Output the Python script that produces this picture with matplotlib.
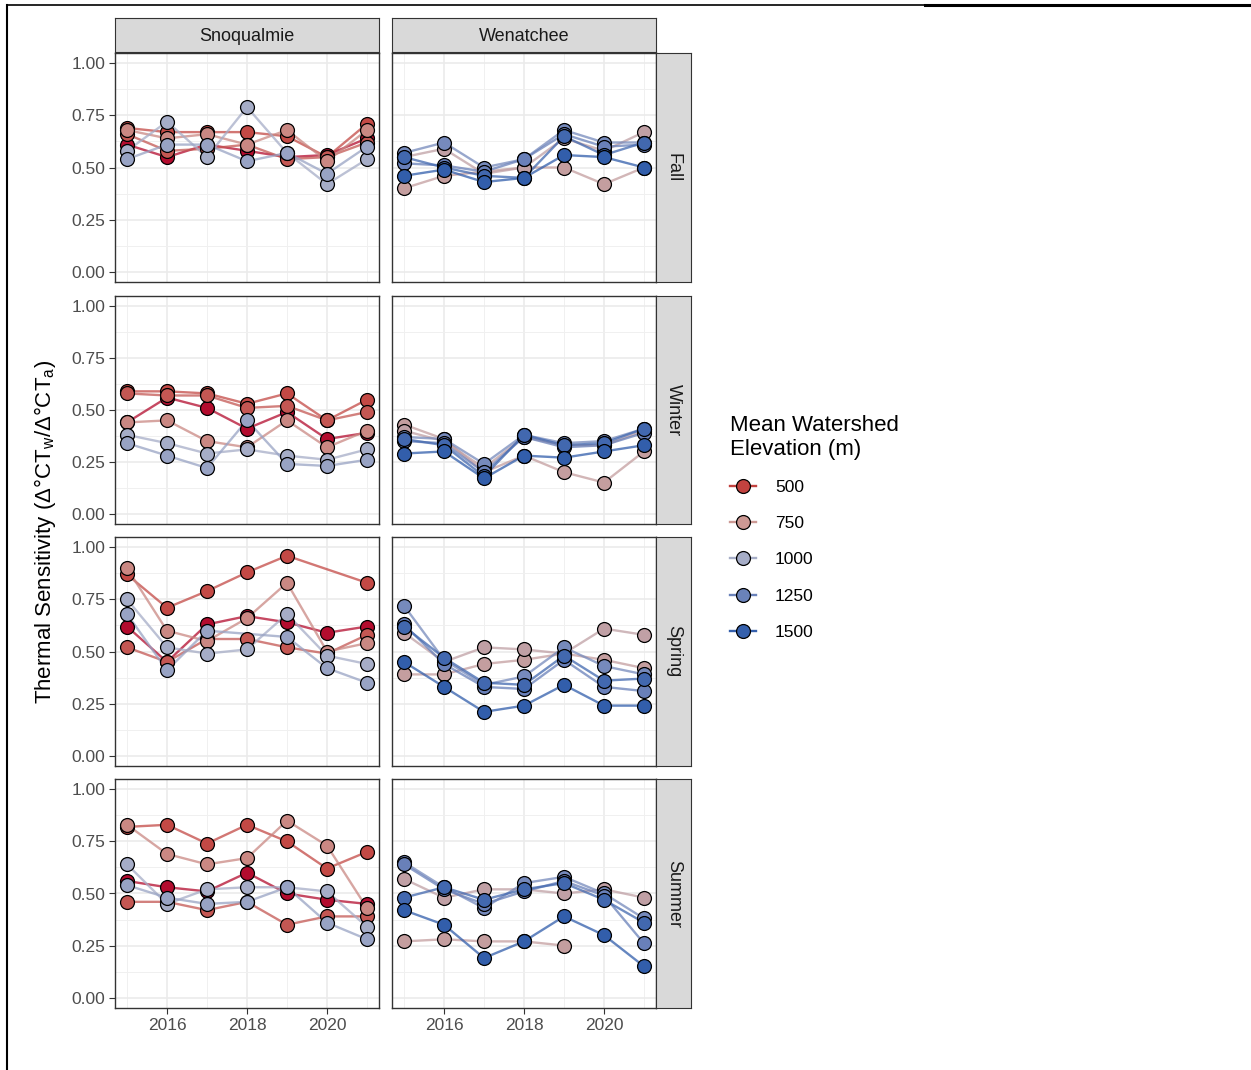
import matplotlib
matplotlib.use("Agg")
import matplotlib.pyplot as plt
import numpy as np
from matplotlib.colors import LinearSegmentedColormap, Normalize
from matplotlib.lines import Line2D

plt.rcParams["font.family"] = ["Liberation Sans", "DejaVu Sans"]
plt.rcParams["mathtext.fontset"] = "custom"
plt.rcParams["mathtext.rm"] = "Liberation Sans"
plt.rcParams["mathtext.it"] = "Liberation Sans:italic"

years = [2015, 2016, 2017, 2018, 2019, 2020, 2021]
basins = ["Snoqualmie", "Wenatchee"]
seasons = ["Fall", "Winter", "Spring", "Summer"]

# mean watershed elevation (m) of each site
sno_elev = [420, 520, 560, 700, 1000, 1060]
wen_elev = [800, 830, 1200, 1260, 1440, 1510]

nan = np.nan

# thermal sensitivity per site, one row per site (same order as the elevations)
sno_fall = [
    [0.61, 0.55, 0.61, 0.58, 0.55, 0.56, 0.64],
    [0.69, 0.67, 0.67, 0.67, 0.65, 0.55, 0.71],
    [0.66, 0.58, 0.59, 0.61, 0.54, 0.55, 0.62],
    [0.68, 0.64, 0.66, 0.61, 0.68, 0.53, 0.68],
    [0.58, 0.72, 0.55, 0.79, 0.57, 0.42, 0.54],
    [0.54, 0.61, 0.61, 0.53, 0.57, 0.47, 0.60],
]
sno_winter = [
    [0.44, 0.56, 0.51, 0.41, 0.49, 0.36, 0.39],
    [0.59, 0.59, 0.58, 0.53, 0.58, 0.45, 0.55],
    [0.58, 0.57, 0.57, 0.51, 0.52, 0.45, 0.49],
    [0.44, 0.45, 0.35, 0.32, 0.45, 0.32, 0.40],
    [0.38, 0.34, 0.29, 0.31, 0.28, 0.26, 0.31],
    [0.34, 0.28, 0.22, 0.45, 0.24, 0.23, 0.26],
]
sno_spring = [
    [0.62, 0.45, 0.63, 0.67, 0.64, 0.59, 0.62],
    [0.87, 0.71, 0.79, 0.88, 0.96, nan, 0.83],
    [0.52, 0.45, 0.56, 0.56, 0.52, 0.49, 0.58],
    [0.90, 0.60, 0.55, 0.66, 0.83, 0.50, 0.54],
    [0.75, 0.52, 0.49, 0.51, 0.68, 0.48, 0.44],
    [0.68, 0.41, 0.60, nan, 0.57, 0.42, 0.35],
]
sno_summer = [
    [0.56, 0.53, 0.51, 0.60, 0.50, 0.47, 0.45],
    [0.82, 0.83, 0.74, 0.83, 0.75, 0.62, 0.70],
    [0.46, 0.46, 0.42, 0.46, 0.35, 0.39, 0.39],
    [0.83, 0.69, 0.64, 0.67, 0.85, 0.73, 0.43],
    [0.64, 0.45, 0.52, 0.53, 0.53, 0.51, 0.34],
    [0.54, 0.48, 0.45, 0.46, 0.53, 0.36, 0.28],
]
wen_fall = [
    [0.40, 0.46, 0.48, 0.50, 0.50, 0.42, 0.50],
    [0.55, 0.59, 0.47, 0.50, 0.64, 0.58, 0.67],
    [0.57, 0.62, 0.50, 0.54, 0.68, 0.62, 0.62],
    [0.52, 0.51, 0.48, 0.54, 0.66, 0.60, 0.61],
    [0.55, 0.50, 0.46, 0.45, 0.65, 0.56, 0.62],
    [0.46, 0.49, 0.43, 0.45, 0.56, 0.55, 0.50],
]
wen_winter = [
    [0.43, 0.36, 0.20, 0.28, 0.20, 0.15, 0.30],
    [0.40, 0.35, 0.22, 0.37, 0.33, 0.33, 0.40],
    [0.37, 0.36, 0.24, 0.38, 0.34, 0.35, 0.41],
    [0.35, 0.34, 0.20, 0.37, 0.32, 0.33, 0.39],
    [0.36, 0.33, 0.18, 0.38, 0.33, 0.34, 0.41],
    [0.29, 0.30, 0.17, 0.28, 0.27, 0.30, 0.33],
]
wen_spring = [
    [0.39, 0.39, 0.44, 0.46, 0.49, 0.46, 0.42],
    [0.59, 0.45, 0.52, 0.51, 0.49, 0.61, 0.58],
    [0.72, 0.46, 0.34, 0.38, 0.52, 0.43, 0.39],
    [0.63, 0.44, 0.33, 0.32, 0.46, 0.33, 0.31],
    [0.62, 0.47, 0.35, 0.34, 0.48, 0.36, 0.37],
    [0.45, 0.33, 0.21, 0.24, 0.34, 0.24, 0.24],
]
wen_summer = [
    [0.27, 0.28, 0.27, 0.27, 0.25, nan, nan],
    [0.57, 0.48, 0.52, 0.52, 0.50, 0.52, 0.48],
    [0.65, 0.53, 0.43, 0.55, 0.58, 0.50, 0.38],
    [0.64, 0.52, 0.45, 0.51, 0.56, 0.49, 0.26],
    [0.48, 0.53, 0.47, 0.52, 0.55, 0.47, 0.36],
    [0.42, 0.35, 0.19, 0.27, 0.39, 0.30, 0.15],
]

legend_elev = [500, 750, 1000, 1250, 1500]

panels = {
    ("Snoqualmie", "Fall"): sno_fall,
    ("Snoqualmie", "Winter"): sno_winter,
    ("Snoqualmie", "Spring"): sno_spring,
    ("Snoqualmie", "Summer"): sno_summer,
    ("Wenatchee", "Fall"): wen_fall,
    ("Wenatchee", "Winter"): wen_winter,
    ("Wenatchee", "Spring"): wen_spring,
    ("Wenatchee", "Summer"): wen_summer,
}
elevations = {"Snoqualmie": sno_elev, "Wenatchee": wen_elev}

# red -> grey -> blue elevation scale
stops = [400, 500, 750, 1000, 1250, 1500, 1550]
stop_cols = ["#B0002A", "#C2433F", "#CC9A95", "#A6ADC7", "#6B82BA", "#3560AC", "#2A58A8"]
lo, hi = stops[0], stops[-1]
cmap = LinearSegmentedColormap.from_list(
    "elev", [((s - lo) / (hi - lo), c) for s, c in zip(stops, stop_cols)])
norm = Normalize(lo, hi)

W, H = 1251, 1070
fig = plt.figure(figsize=(W / 100, H / 100), dpi=100)


def rect(x0, y0, x1, y1):
    return [x0 / W, 1 - y1 / H, (x1 - x0) / W, (y1 - y0) / H]


col_x = [(115, 379), (392, 656)]
row_y = [(53, 282), (296, 524), (537, 766), (779, 1008)]
border = "#333333"
tick_col = "#4D4D4D"

for r, season in enumerate(seasons):
    for c, basin in enumerate(basins):
        x0, x1 = col_x[c]
        y0, y1 = row_y[r]
        ax = fig.add_axes(rect(x0, y0, x1, y1))
        ax.set_xlim(2014.7, 2021.3)
        ax.set_ylim(-0.05, 1.05)
        ax.set_xticks([2016, 2018, 2020])
        ax.set_xticks([2015, 2017, 2019, 2021], minor=True)
        ax.set_yticks([0, 0.25, 0.5, 0.75, 1.0])
        ax.set_yticks([0.125, 0.375, 0.625, 0.875], minor=True)
        ax.grid(which="major", color="#EBEBEB", lw=1.2, zorder=0)
        ax.grid(which="minor", color="#F0F0F0", lw=0.7, zorder=0)
        ax.set_axisbelow(True)
        for sp in ax.spines.values():
            sp.set_color(border)
            sp.set_linewidth(1.0)
        ax.tick_params(which="minor", length=0)
        ax.tick_params(which="major", length=4, width=0.8, color=border,
                       labelsize=12.5, labelcolor=tick_col, pad=3)
        if c == 0:
            ax.set_yticklabels(["0.00", "0.25", "0.50", "0.75", "1.00"])
        else:
            ax.tick_params(axis="y", which="major", length=0, labelleft=False)
        if r != len(seasons) - 1:
            ax.tick_params(axis="x", which="major", length=0, labelbottom=False)

        series = panels[(basin, season)]
        elev = elevations[basin]
        yrs = np.array(years)
        for vals, e in zip(series, elev):
            v = np.array(vals, dtype=float)
            ok = ~np.isnan(v)
            ax.plot(yrs[ok], v[ok], color=cmap(norm(e)), lw=1.7, alpha=0.75, zorder=2)
        for vals, e in zip(series, elev):
            v = np.array(vals, dtype=float)
            ok = ~np.isnan(v)
            ax.plot(yrs[ok], v[ok], ls="none", marker="o", ms=10,
                    mfc=cmap(norm(e)), mec="black", mew=0.9, zorder=3)

        # facet strips
        if r == 0:
            sx = fig.add_axes(rect(x0, 18, x1, 52))
            sx.set_facecolor("#D9D9D9")
            sx.set_xticks([])
            sx.set_yticks([])
            for sp in sx.spines.values():
                sp.set_color(border)
            sx.text(0.5, 0.45, basin, ha="center", va="center", fontsize=13,
                    color="#1A1A1A", transform=sx.transAxes)
        if c == len(basins) - 1:
            sy = fig.add_axes(rect(656, y0, 691, y1))
            sy.set_facecolor("#D9D9D9")
            sy.set_xticks([])
            sy.set_yticks([])
            for sp in sy.spines.values():
                sp.set_color(border)
            sy.text(0.5, 0.5, season, ha="center", va="center", fontsize=13,
                    rotation=-90, color="#1A1A1A", transform=sy.transAxes)

fig.text(45 / W, 1 - 532 / H,
         r"Thermal Sensitivity (Δ°CT$_\mathrm{w}$/Δ°CT$_\mathrm{a}$)",
         rotation=90, ha="center", va="center", fontsize=16, color="black")

handles = [
    Line2D([], [], color=cmap(norm(e)), lw=1.7, marker="o", ms=10,
           mfc=cmap(norm(e)), mec="black", mew=0.9)
    for e in legend_elev
]
leg = fig.legend(handles, [str(e) for e in legend_elev],
                 title="Mean Watershed\nElevation (m)", loc="upper left",
                 bbox_to_anchor=(723 / W, 1 - 408 / H), frameon=False,
                 fontsize=12.5, title_fontsize=16, handlelength=1.5,
                 handletextpad=1.1, labelspacing=1.22, borderaxespad=0)
leg._legend_box.align = "left"
leg._legend_box.sep = 14

# outer frame lines
fig.add_artist(Line2D([7 / W, 7 / W], [0, 1 - 5 / H], color="black", lw=1.5,
                      transform=fig.transFigure))
fig.add_artist(Line2D([7 / W, 925 / W], [1 - 5 / H, 1 - 5 / H], color="black",
                      lw=1.2, transform=fig.transFigure))
fig.add_artist(Line2D([925 / W, 1], [1 - 5 / H, 1 - 5 / H], color="black",
                      lw=2.2, transform=fig.transFigure))

fig.savefig("out.png", dpi=100, facecolor="white")
